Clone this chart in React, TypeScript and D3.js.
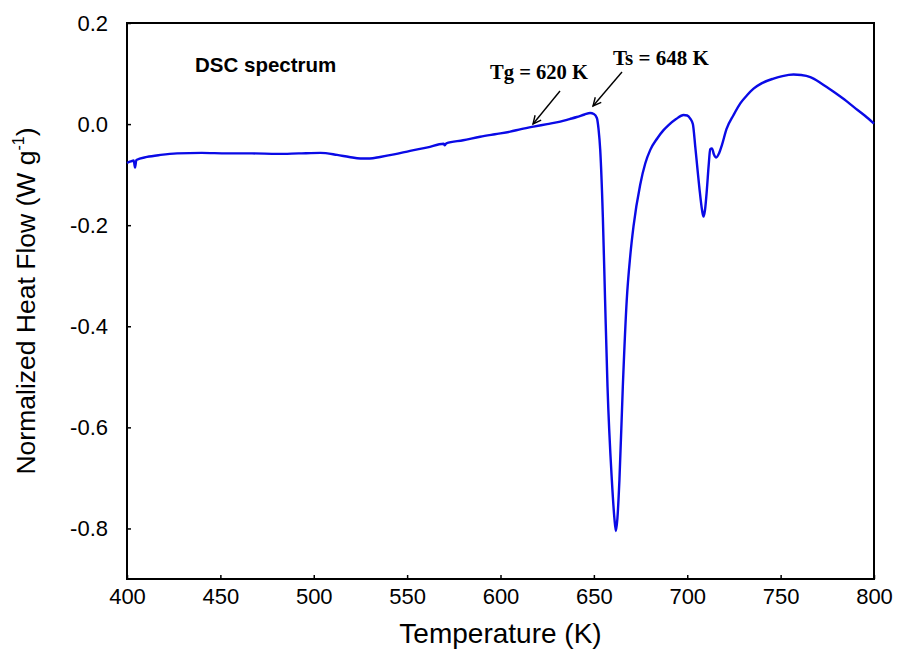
import React, { useEffect, useRef } from 'react';
import * as d3 from 'd3';

// DSC curve (K, W/g)
const temperature = [
  400, 402, 403.6, 404.3, 405, 410.7, 418, 426.8, 440, 453.6, 467, 480.4, 492, 503.6,
  512.5, 519, 525, 530, 535.5, 543, 551.6, 561, 569.5, 570.2, 571, 580, 589.1, 597,
  605.2, 611, 617.7, 625, 632, 637, 640.9, 645, 648, 650, 651.6, 652.5, 653.4, 654.8,
  656, 657.3, 659.6, 661, 661.8, 662.6, 663.7, 665.5, 667.6, 669.5, 671.2, 674.8, 677.5,
  680.2, 684, 687.3, 690, 694, 698, 700, 701.6, 703, 704.3, 705.5, 706.6, 708, 708.7,
  709.5, 710.5, 711.5, 712.3, 713.2, 714.3, 715.5, 717, 718.6, 721, 724.8, 728.4, 732,
  735.5, 740, 746.2, 751, 756.9, 761, 765.9, 772, 778.4, 784, 789.1, 795, 800,
];
const heatFlow = [
  -0.077, -0.074, -0.072, -0.086, -0.071, -0.065, -0.061, -0.058, -0.057, -0.058, -0.058,
  -0.059, -0.058, -0.057, -0.061, -0.065, -0.068, -0.068, -0.065, -0.06, -0.053, -0.046,
  -0.039, -0.042, -0.038, -0.032, -0.025, -0.02, -0.015, -0.01, -0.005, 0.0, 0.005, 0.01,
  0.014, 0.019, 0.022, 0.02, 0.012, -0.01, -0.051, -0.183, -0.348, -0.519, -0.703, -0.78,
  -0.805, -0.78, -0.703, -0.519, -0.348, -0.26, -0.203, -0.12, -0.078, -0.051, -0.028,
  -0.012, -0.002, 0.01, 0.018, 0.017, 0.011, 0.0, -0.045, -0.09, -0.13, -0.172, -0.183,
  -0.17, -0.13, -0.08, -0.05, -0.048, -0.06, -0.066, -0.058, -0.041, -0.01, 0.018, 0.041,
  0.057, 0.07, 0.081, 0.09, 0.095, 0.098, 0.097, 0.093, 0.08, 0.064, 0.049, 0.034, 0.017,
  0.001,
];

const xTicks = [400, 450, 500, 550, 600, 650, 700, 750, 800];
const yTicks = [-0.8, -0.6, -0.4, -0.2, 0.0, 0.2];
const yTickLabels = ['-0.8', '-0.6', '-0.4', '-0.2', '0.0', '0.2'];

// annotations: label position and arrow tail/head, in pixels of the figure
const annotations = [
  { label: 'Tg = 620 K', x: 490, y: 79, tx: 560, ty: 91, hx: 533, hy: 124, len: 98 },
  { label: 'Ts = 648 K', x: 613, y: 65, tx: 622, ty: 72, hx: 593, hy: 106, len: 96 },
];

const App = () => {
  const svgRef = useRef<SVGSVGElement | null>(null);

  useEffect(() => {
    const width = 897;
    const height = 655;
    const margin = { top: 23, right: 23, bottom: 76, left: 127 };
    const innerW = width - margin.left - margin.right;
    const innerH = height - margin.top - margin.bottom;

    const svg = d3.select(svgRef.current);
    svg.selectAll('*').remove();

    const x = d3.scaleLinear().domain([400, 800]).range([0, innerW]);
    const y = d3.scaleLinear().domain([-0.9, 0.2]).range([innerH, 0]);

    const g = svg.append('g').attr('transform', `translate(${margin.left},${margin.top})`);

    // x axis
    const xAxis = g.append('g')
      .attr('transform', `translate(0,${innerH})`)
      .call(d3.axisBottom(x).tickValues(xTicks).tickSize(-4).tickPadding(9).tickFormat(d => String(d)));
    xAxis.select('.domain').remove();
    xAxis.selectAll('line').attr('stroke', '#000').attr('stroke-width', 1.5);
    xAxis.selectAll('text')
      .style('font-family', 'Arial, "Liberation Sans", sans-serif')
      .style('font-size', '22px')
      .attr('fill', '#000');

    // y axis
    const yAxis = g.append('g')
      .call(d3.axisLeft(y).tickValues(yTicks).tickSize(-4).tickPadding(19)
        .tickFormat((d, i) => yTickLabels[i]));
    yAxis.select('.domain').remove();
    yAxis.selectAll('line').attr('stroke', '#000').attr('stroke-width', 1.5);
    yAxis.selectAll('text')
      .style('font-family', 'Arial, "Liberation Sans", sans-serif')
      .style('font-size', '22px')
      .attr('fill', '#000');

    // frame
    g.append('rect')
      .attr('width', innerW)
      .attr('height', innerH)
      .attr('fill', 'none')
      .attr('stroke', '#000')
      .attr('stroke-width', 2);

    // curve
    const pts = temperature.map((t, i) => [t, heatFlow[i]] as [number, number]);
    const line = d3.line<[number, number]>()
      .x(d => x(d[0]))
      .y(d => y(d[1]))
      .curve(d3.curveMonotoneX);
    g.append('path')
      .datum(pts)
      .attr('d', line)
      .attr('fill', 'none')
      .attr('stroke', '#0a0ae6')
      .attr('stroke-width', 2.4)
      .attr('stroke-linejoin', 'round');

    // DSC spectrum label
    svg.append('text')
      .attr('x', 195)
      .attr('y', 72)
      .style('font-family', 'Arial, "Liberation Sans", sans-serif')
      .style('font-size', '20.5px')
      .style('font-weight', 'bold')
      .text('DSC spectrum');

    // annotations with arrows
    annotations.forEach(a => {
      svg.append('text')
        .attr('x', a.x)
        .attr('y', a.y)
        .attr('textLength', a.len)
        .attr('lengthAdjust', 'spacingAndGlyphs')
        .style('font-family', '"Times New Roman", "Liberation Serif", serif')
        .style('font-size', '21px')
        .style('font-weight', 'bold')
        .text(a.label);

      svg.append('line')
        .attr('x1', a.tx).attr('y1', a.ty)
        .attr('x2', a.hx).attr('y2', a.hy)
        .attr('stroke', '#000').attr('stroke-width', 1.4);

      const ang = Math.atan2(a.hy - a.ty, a.hx - a.tx);
      const hl = 9;
      const spread = 0.45;
      const head = [
        [a.hx - hl * Math.cos(ang - spread), a.hy - hl * Math.sin(ang - spread)],
        [a.hx, a.hy],
        [a.hx - hl * Math.cos(ang + spread), a.hy - hl * Math.sin(ang + spread)],
      ] as [number, number][];
      svg.append('path')
        .attr('d', d3.line()(head))
        .attr('fill', 'none')
        .attr('stroke', '#000')
        .attr('stroke-width', 1.4);
    });

    // axis titles
    svg.append('text')
      .attr('x', margin.left + innerW / 2)
      .attr('y', 643)
      .attr('text-anchor', 'middle')
      .style('font-family', 'Arial, "Liberation Sans", sans-serif')
      .style('font-size', '28px')
      .text('Temperature (K)');

    const yt = svg.append('text')
      .attr('transform', `translate(35,${margin.top + innerH / 2}) rotate(-90)`)
      .attr('text-anchor', 'middle')
      .style('font-family', 'Arial, "Liberation Sans", sans-serif')
      .style('font-size', '26.5px');
    yt.append('tspan').text('Normalized Heat Flow (W g');
    yt.append('tspan').attr('dy', -11).style('font-size', '16px').text('-1');
    yt.append('tspan').attr('dy', 11).text(')');
  }, []);

  return (
    <div style={{ width: 897, height: 655, position: 'absolute', left: 0, top: 0, background: '#fff' }}>
      <svg ref={svgRef} width={897} height={655} style={{ display: 'block' }}></svg>
    </div>
  );
};

export default App;
